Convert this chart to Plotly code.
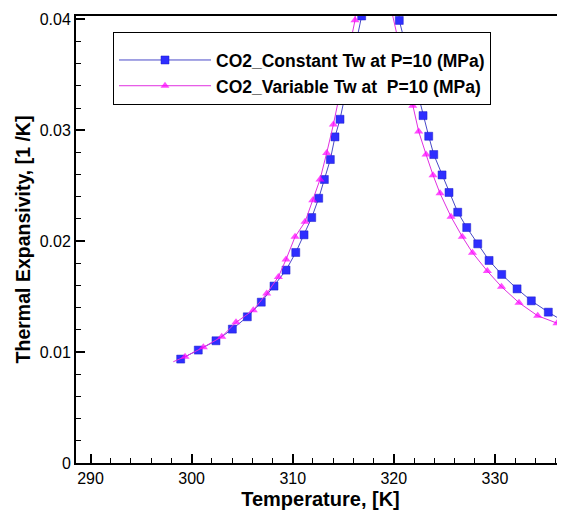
import plotly.graph_objects as go

# ---- data ----
T_const = [298.92, 300.66, 302.41, 304.03, 305.51, 306.89, 308.15, 309.34, 310.30,
           311.12, 311.88, 312.57, 313.13, 313.72, 314.18, 314.68, 316.82, 318.70,
           320.54, 322.89, 323.45, 323.95, 324.77, 325.46, 326.32, 327.21, 328.30,
           329.42, 330.67, 332.19, 333.60, 335.28, 336.87]
beta_const = [0.00937, 0.01018, 0.01102, 0.01207, 0.01318, 0.01450, 0.01595, 0.01739,
              0.01898, 0.02057, 0.02213, 0.02387, 0.02556, 0.02736, 0.02940, 0.03099,
              0.04030, 0.07500, 0.03990, 0.03132, 0.02946, 0.02781, 0.02597, 0.02439,
              0.02261, 0.02123, 0.01976, 0.01826, 0.01700, 0.01570, 0.01462, 0.01360,
              0.01273]

T_var = [298.19, 299.35, 301.16, 302.98, 304.39, 306.10, 307.43, 308.58, 309.34,
         310.23, 311.22, 311.98, 312.70, 313.36, 314.02, 316.16, 318.00, 319.60,
         321.87, 322.46, 323.19, 323.88, 324.57, 325.66, 326.77, 327.78, 329.25,
         330.65, 332.38, 334.23, 336.14, 336.93]
beta_var = [0.00913, 0.00958, 0.01043, 0.01138, 0.01268, 0.01378, 0.01528, 0.01678,
            0.01835, 0.02039, 0.02174, 0.02369, 0.02556, 0.02795, 0.03051, 0.03991,
            0.07200, 0.04150, 0.03221, 0.02989, 0.02781, 0.02595, 0.02431, 0.02219,
            0.02040, 0.01896, 0.01730, 0.01589, 0.01445, 0.01327, 0.01261, 0.01225]

names = ["CO2_Constant Tw at P=10 (MPa)", "CO2_Variable Tw at  P=10 (MPa)"]

x_ticks = [290, 300, 310, 320, 330]
y_ticks = [0, 0.01, 0.02, 0.03, 0.04]
y_ticktext = ["0", "0.01", "0.02", "0.03", "0.04"]

FONT = "Arial, Liberation Sans, Helvetica, sans-serif"

fig = go.Figure()

fig.add_trace(go.Scatter(
    x=T_const, y=beta_const, name=names[0], mode="lines+markers",
    line=dict(color="#4848C8", width=1),
    marker=dict(symbol="square", size=8, color="#2E2EFF",
                line=dict(color="#1C1CC8", width=0.5)),
))

var_sizes = [0] + [8] * (len(T_var) - 1)
fig.add_trace(go.Scatter(
    x=T_var, y=beta_var, name=names[1], mode="lines+markers",
    line=dict(color="#E030E0", width=1),
    marker=dict(symbol="triangle-up", size=var_sizes, color="#FF00FF",
                line=dict(width=0)),
))

# the page body has an 8px default margin: the figure is sized so that
# the plot area reaches the right edge of the 565x510 window
fig.update_layout(
    width=557, height=502,
    margin=dict(l=68, r=0, t=8, b=47),
    paper_bgcolor="white", plot_bgcolor="white",
    font=dict(family=FONT, color="black", size=16),
    showlegend=True,
    legend=dict(
        x=(113 - 76) / 489, y=(463 - 32) / 447, xanchor="left", yanchor="top",
        bgcolor="white", bordercolor="black", borderwidth=1,
        font=dict(family=FONT, size=17.5, color="black", weight="bold"),
        itemwidth=92, tracegroupgap=0,
        title=dict(text=" ", font=dict(size=7)),
    ),
    xaxis=dict(
        range=[288.566, 336.93], showgrid=False, zeroline=False, automargin=False,
        showline=True, linecolor="black", linewidth=2, mirror=True,
        ticks="inside", ticklen=9, tickwidth=1.5, tickcolor="black",
        tickvals=x_ticks, tickfont=dict(size=16),
        minor=dict(ticks="inside", ticklen=5, tickwidth=1, tickcolor="black", dtick=2),
        title=dict(text="Temperature, [K]", font=dict(size=20, weight="bold"), standoff=11),
    ),
    yaxis=dict(
        range=[0, 0.0403], showgrid=False, zeroline=False, automargin=False,
        showline=True, linecolor="black", linewidth=2, mirror=False,
        ticks="inside", ticklen=9, tickwidth=1.5, tickcolor="black",
        tickvals=y_ticks, ticktext=y_ticktext, tickfont=dict(size=16),
        minor=dict(ticks="inside", ticklen=5, tickwidth=1, tickcolor="black", dtick=0.002),
        title=dict(text="Thermal Expansivity, [1 /K]", font=dict(size=19.5, weight="bold"), standoff=4),
    ),
)

fig.write_html("out.html")
